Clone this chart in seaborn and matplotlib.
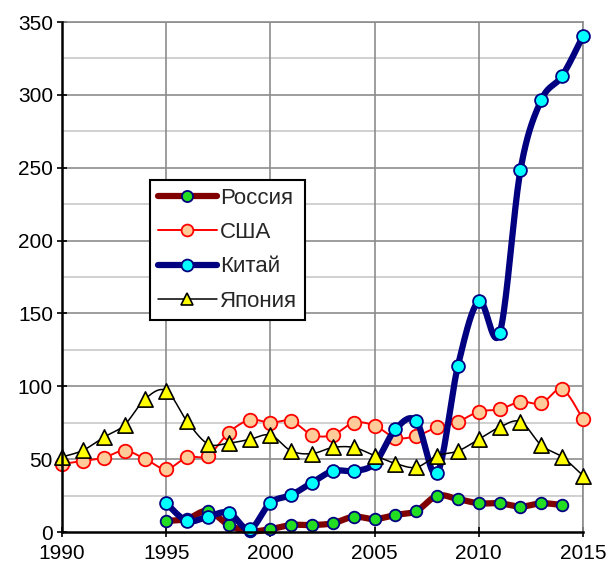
import numpy as np
import pandas as pd
import matplotlib
matplotlib.use("Agg")
import matplotlib.pyplot as plt
import seaborn as sns
from matplotlib.lines import Line2D

# ---- data ----
years_all = list(range(1990, 2016))
years_95 = list(range(1995, 2016))
years_ru = list(range(1995, 2015))

russia = [7.6, 9, 14.5, 4.8, 0.5, 2, 4.8, 4.8, 6, 10.5, 8.9, 11.7, 14.4,
          24.9, 22.6, 19.7, 19.7, 17.4, 19.7, 18.5]
usa = [46.7, 48.7, 51, 55.8, 50.1, 43.2, 51.3, 52.4, 68.2, 76.9, 75, 76.2,
       66.6, 66.6, 75, 73, 64.7, 65.9, 71.9, 75.7, 82.6, 84.2, 89.4, 88.3,
       97.9, 77.3]
china = [19.7, 7.6, 10.5, 13.3, 1.8, 20.1, 25.4, 33.9, 41.9, 41.9, 47.1,
         70.5, 76.2, 40.3, 114.2, 158.5, 136.4, 248.5, 296.5, 313, 340.4]
japan = [51.5, 56, 65, 73.5, 91.5, 97, 76, 60.5, 61, 63.5, 66.5, 55.6, 53.8,
         58, 58, 52.4, 47, 44.4, 52.4, 55.6, 63.6, 71.9, 75.7, 59.5, 51.5, 38.7]

labels = ["Россия", "США", "Китай", "Япония"]
x_ticks = [1990, 1995, 2000, 2005, 2010, 2015]
y_ticks = [0, 50, 100, 150, 200, 250, 300, 350]


def smooth(x, y, n=20):
    x = np.asarray(x, float)
    y = np.asarray(y, float)
    P = np.column_stack([x, y])
    out = []
    for i in range(len(P) - 1):
        p0 = P[i - 1] if i > 0 else P[i]
        p1 = P[i]
        p2 = P[i + 1]
        p3 = P[i + 2] if i + 2 < len(P) else P[i + 1]
        c1 = p1 + (p2 - p0) / 6.0
        c2 = p2 - (p3 - p1) / 6.0
        t = np.linspace(0, 1, n, endpoint=False)[:, None]
        b = ((1 - t) ** 3) * p1 + 3 * ((1 - t) ** 2) * t * c1 + 3 * (1 - t) * t ** 2 * c2 + t ** 3 * p2
        out.append(b)
    out.append(P[-1:])
    B = np.vstack(out)
    return B[:, 0], B[:, 1]


sns.set_style("white")
plt.rcParams["font.family"] = ["Liberation Sans", "DejaVu Sans"]

fig = plt.figure(figsize=(6.08, 5.66), dpi=100)
ax = fig.add_axes([62 / 608, 34 / 566, (583 - 62) / 608, (532 - 22) / 566])

series = [
    (years_ru, russia, dict(color="#800000", lw=4.5), dict(marker="o", s=70, color="#22DD22", edgecolor="#000080", linewidth=1.3)),
    (years_all, usa, dict(color="#FF0000", lw=1.4), dict(marker="o", s=95, color="#FFCC99", edgecolor="#FF0000", linewidth=1.3)),
    (years_95, china, dict(color="#000080", lw=4.5), dict(marker="o", s=85, color="#00FFFF", edgecolor="#000080", linewidth=1.3)),
    (years_all, japan, dict(color="#000000", lw=1.1), dict(marker="^", s=120, color="#FFFF00", edgecolor="#000000", linewidth=1.2)),
]
legend_msize = [8, 8.5, 8.5, 9]

# gridlines
for v in np.arange(25, 350, 50):
    ax.axhline(v, color="#C8C8C8", lw=1.2, zorder=0)
for v in np.arange(50, 351, 50):
    ax.axhline(v, color="#8C8C8C", lw=1.2, zorder=0)
for v in x_ticks[1:]:
    ax.axvline(v, color="#8C8C8C", lw=1.2, zorder=0)

handles = []
z = 3
for (xs, ys, lk, mk), ms in zip(series, legend_msize):
    sx, sy = smooth(xs, ys)
    df_line = pd.DataFrame({"x": sx, "y": sy})
    sns.lineplot(data=df_line, x="x", y="y", sort=False, ax=ax, estimator=None,
                 zorder=z, clip_on=False, **lk)
    df_pts = pd.DataFrame({"x": xs, "y": ys})
    sns.scatterplot(data=df_pts, x="x", y="y", ax=ax, zorder=z + 1, clip_on=False, **mk)
    handles.append(Line2D([0], [0], color=lk["color"], lw=lk["lw"], marker=mk["marker"],
                          markersize=ms, markerfacecolor=mk["color"],
                          markeredgecolor=mk["edgecolor"], markeredgewidth=mk["linewidth"]))
    z += 2

ax.set_xlim(1990, 2015)
ax.set_ylim(0, 350)
ax.set_xticks(x_ticks)
ax.set_yticks(y_ticks)
ax.set_xlabel("")
ax.set_ylabel("")
ax.tick_params(axis="both", labelsize=15, length=7, width=1.2, direction="inout",
               colors="black")
ax.tick_params(axis="x", bottom=True, pad=5)
ax.tick_params(axis="y", left=True, pad=3)

for s in ["left", "bottom"]:
    ax.spines[s].set_color("black")
    ax.spines[s].set_linewidth(1.8)
    ax.spines[s].set_zorder(20)
for s in ["top", "right"]:
    ax.spines[s].set_visible(True)
    ax.spines[s].set_color("#8C8C8C")
    ax.spines[s].set_linewidth(1.2)

leg = ax.legend(handles, labels, loc="upper left",
                bbox_to_anchor=(150 / 608, 1 - 180 / 566), bbox_transform=fig.transFigure,
                fontsize=16, frameon=True, fancybox=False, edgecolor="black",
                framealpha=1, handlelength=2.65, handletextpad=0.15,
                labelspacing=0.6, borderpad=0.35, borderaxespad=0)
leg.get_frame().set_linewidth(1.5)
leg.set_zorder(30)

fig.savefig("out.png", dpi=100)
